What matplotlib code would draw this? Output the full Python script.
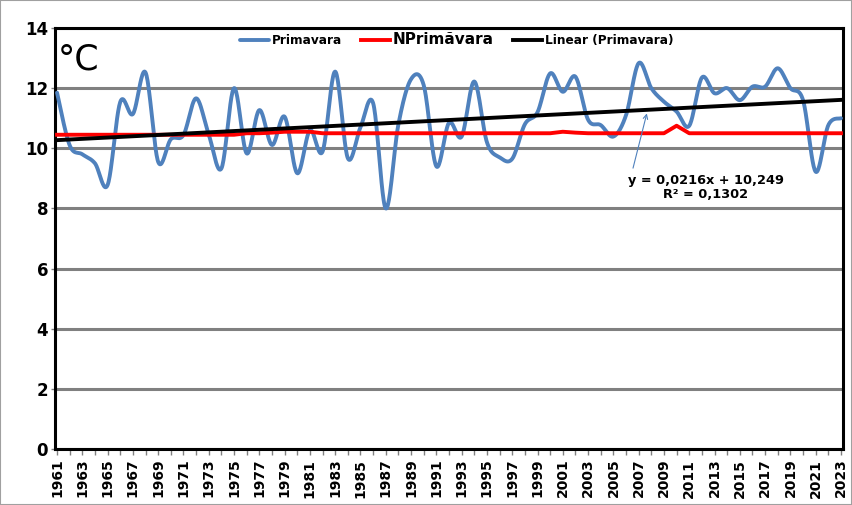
import numpy as np
import matplotlib
matplotlib.use('Agg')
import matplotlib.pyplot as plt
from matplotlib.patches import Rectangle

# Date
ani = list(range(1961, 2024))
primavara = [11.85, 10.1, 9.8, 9.5, 8.78, 11.54, 11.14, 12.52, 9.55, 10.3,
             10.44, 11.66, 10.45, 9.33, 12.0, 9.83, 11.27, 10.11, 11.05, 9.17,
             10.6, 9.89, 12.55, 9.67, 10.7, 11.5, 8.0, 10.8, 12.3, 12.1,
             9.4, 10.85, 10.39, 12.22, 10.2, 9.7, 9.65, 10.8, 11.2, 12.49,
             11.88, 12.38, 10.95, 10.77, 10.39, 11.1, 12.83, 12.0, 11.55, 11.22,
             10.75, 12.35, 11.83, 12.0, 11.6, 12.05, 12.05, 12.66, 12.0, 11.6,
             9.22, 10.77, 11.0]
nprimavara = [10.45, 10.45, 10.45, 10.45, 10.45, 10.45, 10.45, 10.45, 10.45, 10.45,
              10.45, 10.45, 10.45, 10.45, 10.45, 10.5, 10.5, 10.52, 10.55, 10.55,
              10.55, 10.5, 10.5, 10.5, 10.5, 10.5, 10.5, 10.5, 10.5, 10.5,
              10.5, 10.5, 10.5, 10.5, 10.5, 10.5, 10.5, 10.5, 10.5, 10.5,
              10.55, 10.52, 10.5, 10.5, 10.5, 10.5, 10.5, 10.5, 10.5, 10.75,
              10.5, 10.5, 10.5, 10.5, 10.5, 10.5, 10.5, 10.5, 10.5, 10.5,
              10.5, 10.5, 10.5]
panta = 0.0216
intercept = 10.249
r2 = 0.1302


def netezire(x, y, n=24):
    # curba netezita ca in Excel (Catmull-Rom / Bezier)
    pts = np.column_stack([x, y]).astype(float)
    P = np.vstack([pts[0], pts, pts[-1]])
    t = np.linspace(0, 1, n, endpoint=False)[:, None]
    out = []
    for i in range(1, len(P) - 2):
        p0, p1, p2, p3 = P[i - 1], P[i], P[i + 1], P[i + 2]
        c1 = p1 + (p2 - p0) / 6
        c2 = p2 - (p3 - p1) / 6
        out.append((1 - t) ** 3 * p1 + 3 * (1 - t) ** 2 * t * c1
                   + 3 * (1 - t) * t ** 2 * c2 + t ** 3 * p2)
    out.append(pts[-1:])
    return np.vstack(out)


plt.rcParams['font.family'] = ['DejaVu Sans']

fig = plt.figure(figsize=(8.52, 5.05), dpi=100)
ax = fig.add_axes([55 / 852, 1 - 449 / 505, 788 / 852, 421 / 505])

curba = netezire(ani, primavara)
ax.plot(curba[:, 0], curba[:, 1], color='#4F81BD', lw=2.8, label='Primavara',
        solid_capstyle='round', zorder=3)
ax.plot(ani, nprimavara, color='#FF0000', lw=2.8, label='NPrimăvara', zorder=4)
idx = np.arange(1, len(ani) + 1)
ax.plot(ani, panta * idx + intercept, color='black', lw=2.8,
        label='Linear (Primavara)', zorder=5)

ax.set_ylim(0, 14)
ax.set_xlim(1960.84, 2023.16)
ax.set_yticks(range(0, 15, 2))
ax.set_xticks(ani[::2])
ax.set_xticks(ani, minor=True)
ax.set_xticklabels([str(a) for a in ani[::2]], rotation=90, fontsize=10,
                   fontweight='bold')
ax.tick_params(axis='y', labelsize=12, length=3, width=1, color='#808080', pad=2)
for lab in ax.get_yticklabels():
    lab.set_fontweight('bold')
ax.tick_params(axis='x', which='both', length=4, width=1, color='#808080', pad=3)
ax.grid(axis='y', color='#808080', lw=2.2, zorder=1)
ax.set_axisbelow(True)
for s in ax.spines.values():
    s.set_linewidth(2.2)
    s.set_color('black')

ax.text(0.003, 0.965, '°C', transform=ax.transAxes, fontsize=25,
        fontweight='medium', va='top', ha='left')

ax.annotate('', xy=(2007.7, 11.25), xytext=(2006.5, 9.25),
            arrowprops=dict(arrowstyle='->', color='#4F81BD', lw=0.8,
                            mutation_scale=8), zorder=6)
ax.text(2012.3, 8.68, 'y = 0,0216x + 10,249\nR² = 0,1302', fontsize=9.3,
        fontweight='bold', ha='center', va='center', multialignment='center',
        linespacing=1.1, zorder=6)

leg = ax.legend(loc='center', bbox_to_anchor=(0.536, 0.921),
                bbox_transform=fig.transFigure, ncol=3, frameon=False,
                handlelength=2.4, handletextpad=0.2, columnspacing=1.6,
                prop={'weight': 'bold', 'size': 8.7})
leg.get_texts()[1].set_fontsize(11)

fig.patches.append(Rectangle((0, 0), 1, 1, transform=fig.transFigure,
                             fill=False, edgecolor='#A0A0A0', lw=1.5))

fig.savefig('out.png', dpi=100)
